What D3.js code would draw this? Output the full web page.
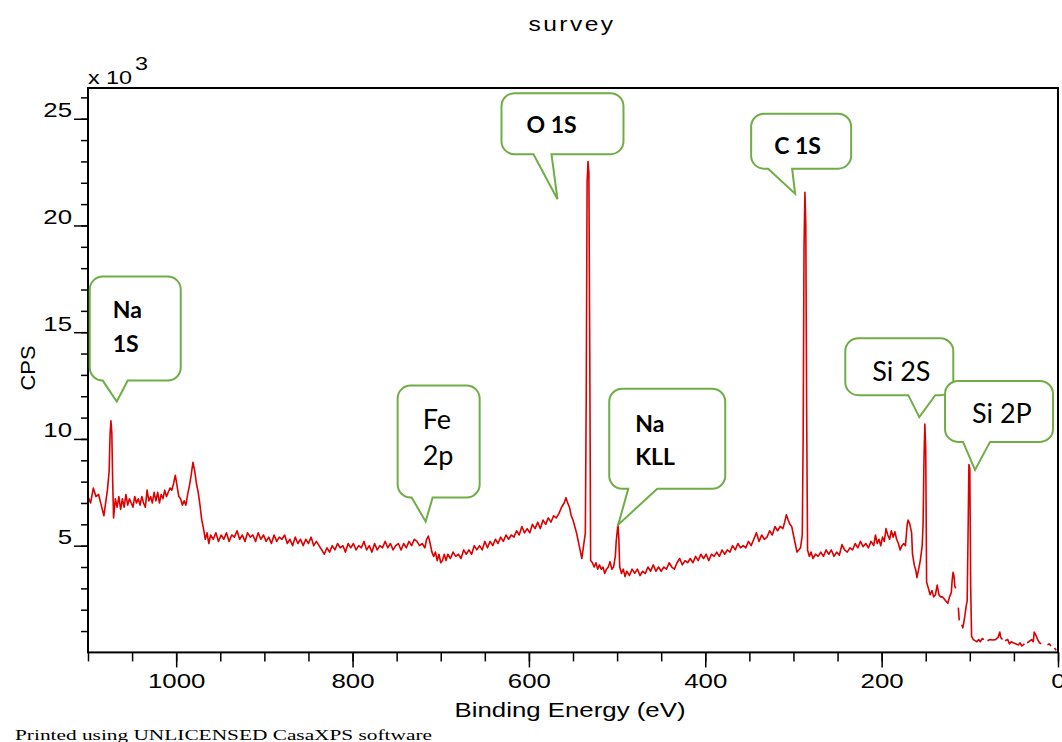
<!DOCTYPE html>
<html><head><meta charset="utf-8">
<script src="https://cdn.jsdelivr.net/npm/d3@7"></script>
<style>body{margin:0;background:#fff} svg{display:block}</style>
</head><body>
<svg id="chart" width="1062" height="742"></svg>
<script>
// ---------- DATA (binding energy eV, counts x10^3) ----------
const spectrum = [
[1100,7.3],[1097,7.0],[1094,7.7],[1091,7.3],[1088,7.4],[1085,6.9],[1082,6.4],[1080,7.0],[1078,7.6],[1076,8.5],[1075,10.2],[1074,10.85],[1073,10.3],[1072,8.0],[1071,6.3],[1069,7.2],[1067,6.8],[1065,7.3],[1063,6.7],[1061,7.2],[1059,6.8],[1057,7.4],[1055,6.9],[1053,7.2],[1051,7.0],[1049,6.8],[1047,7.3],[1045,7.0],[1043,7.2],[1041,6.9],[1039,7.3],[1037,7.0],[1035,6.8],[1033,7.6],[1031,7.1],[1029,7.3],[1027,7.0],[1025,7.5],[1023,7.1],[1021,7.5],[1019,7.0],[1017,7.4],[1015,7.2],[1013,7.6],[1011,7.3],[1009,7.5],[1007,7.7],[1005,7.6],[1003,7.9],[1001,8.3],[999,7.8],[997,7.3],[995,7.2],[993,6.9],[991,7.1],[989,6.9],[987,7.4],[985,7.8],[983,8.3],[981,8.9],[979,8.5],[977,7.9],[975,7.5],[973,6.9],[971,6.2],[969,5.8],[967,5.3],[965,5.6],[963,5.1],[961,5.5],
[958,5.3],[955,5.6],[952,5.2],[949,5.5],[946,5.3],[943,5.6],[940,5.2],[937,5.5],[934,5.4],[931,5.7],[928,5.3],[925,5.5],[922,5.2],[919,5.6],[916,5.4],[913,5.5],[910,5.2],[907,5.6],[904,5.3],[901,5.5],[898,5.2],[895,5.4],[892,5.1],[889,5.5],[886,5.2],[883,5.4],[880,5.3],[877,5.5],[874,5.1],[871,5.3],[868,5.0],[865,5.4],[862,5.1],[859,5.3],[856,5.0],[853,5.3],[850,5.1],[847,5.4],[844,5.0],[841,5.2],[838,5.0],[835,4.8],[832,4.6],[829,4.9],[826,4.7],[823,5.0],[820,4.8],[817,5.1],[814,4.9],[811,5.0],[808,4.7],[805,5.1],[802,4.9],[799,5.1],[796,4.8],[793,5.0],[790,4.9],[787,5.2],[784,4.8],[781,5.0],[778,4.7],[775,5.1],[772,4.8],[769,5.0],[766,4.9],[763,5.2],[760,4.9],[757,5.1],[754,4.8],[751,5.0],[748,5.1],[745,4.8],[742,5.1],[739,4.9],[736,5.2],[733,5.0],[730,5.3],[727,5.2],[724,5.0],[721,5.1],[718,4.9],[716,5.3],[714,5.45],[712,5.1],[710,4.7],[708,4.5],[706,4.7],[704,4.3],[702,4.6],[700,4.2],[698,4.3],[696,4.6],[694,4.3],[692,4.6],[689,4.4],[686,4.7],[683,4.5],[680,4.6],[677,4.4],[674,4.8],[671,4.6],[668,4.8],[665,4.6],[662,5.0],[659,4.8],[656,5.0],[653,4.8],[650,5.2],[647,4.9],[644,5.2],[641,5.0],[638,5.3],[635,5.1],[632,5.4],[629,5.2],[626,5.5],[623,5.3],[620,5.5],[617,5.4],[614,5.7],[611,5.5],[608,5.9],[605,5.6],[602,5.8],[599,5.6],[596,6.0],[593,5.8],[590,6.1],[587,5.8],[584,6.2],[581,6.0],[578,6.3],[575,6.1],[572,6.4],[569,6.3],[566,6.5],[563,6.8],[560,7.0],[558,7.25],[556,7.0],[554,6.8],[552,6.4],[550,6.2],[548,5.9],[546,5.6],[544,5.2],[542,4.8],[540,4.4],[538,5.0],[536,5.6],[535,12.0],[534,22.0],[533,23.0],[532,22.5],[531,14.0],[530,4.3],[528,4.2],[526,4.0],[524,4.2],[522,3.9],[520,4.1],[518,3.9],[516,4.0],[514,3.7],[512,3.9],[510,4.0],[508,4.25],[506,3.9],[504,4.0],[502,4.5],[501,5.2],[499,6.0],[498,5.3],[497,4.0],[495,3.7],[493,3.9],[491,3.55],[489,3.8],[486,3.6],[483,3.9],[480,3.7],[477,3.9],[474,3.6],[471,3.8],[468,3.7],[465,4.0],[462,3.8],[459,4.1],[456,3.8],[453,4.0],[450,3.8],[447,4.0],[444,3.9],[441,4.2],[438,4.0],[435,3.9],[432,4.2],[429,4.4],[426,4.1],[423,4.3],[420,4.2],[417,4.4],[414,4.2],[411,4.5],[408,4.3],[405,4.6],[402,4.4],[399,4.6],[396,4.3],[393,4.6],[390,4.5],[387,4.7],[384,4.5],[381,4.8],[378,4.6],[375,4.8],[372,4.7],[369,5.0],[366,4.8],[363,5.1],[360,4.9],[357,5.0],[354,4.9],[351,5.2],[348,5.0],[345,5.3],[342,5.6],[339,5.2],[336,5.5],[333,5.3],[330,5.4],[327,5.7],[324,5.5],[321,5.9],[318,5.7],[315,5.9],[312,5.8],[310,6.1],[308,6.45],[306,6.2],[304,6.0],[302,5.9],[300,5.5],[298,5.1],[296,4.7],[294,4.8],[292,4.9],[290,5.5],[289,10.0],[288,19.0],[287,21.55],[286,20.0],[285,11.0],[284,4.8],[282,4.5],[280,4.7],[278,4.4],[275,4.6],[272,4.5],[269,4.7],[266,4.5],[263,4.8],[260,4.6],[257,4.8],[254,4.5],[251,4.7],[248,4.55],[245,5.05],[242,4.8],[239,4.7],[236,4.9],[233,4.8],[230,5.1],[227,4.9],[224,5.2],[221,4.95],[218,5.1],[215,4.9],[212,5.2],[209,5.0],[207,5.5],[205,5.1],[203,5.3],[201,5.0],[199,5.4],[197,5.2],[195,5.8],[193,5.5],[191,5.3],[189,5.7],[187,5.4],[185,5.65],[183,5.3],[181,5.1],[179,4.8],[177,5.0],[175,5.1],[173,5.0],[171,6.0],[170,6.2],[168,6.0],[166,5.6],[165,4.6],[163,4.1],[161,3.8],[160,3.5],[158,3.9],[156,4.35],[154,5.0],[153,6.0],[152,9.0],[151,10.7],[150,9.5],[149,3.3],[147,3.0],[145,2.7],[143,2.9],[141,2.6],[139,2.7],[137,3.15],[135,2.7],[133,2.6],[131,2.6],[129,2.5],[127,2.4],[125,2.3],[123,2.6],[121,2.8],[120,3.4],[119,3.75],[118,3.6],[117,3.1],[116,3.0],[115,null],[113,2.1],[112,1.5],[111,null],[109,1.3],[108,1.15],[106,1.6],[104,2.2],[103,2.4],[102,5.5],[101,8.8],[100,8.6],[99,3.0],[98,0.75],[96,0.6],[94,0.55],[92,0.5],[90,0.6],[88,0.5],[86,0.65],[84,0.6],[82,null],[80,0.55],[77,0.6],[74,0.58],[71,0.6],[68,0.7],[66,0.95],[65,0.7],[63,0.6],[62,null],[60,0.55],[57,0.6],[55,0.4],[53,0.5],[51,0.45],[48,0.4],[45,0.35],[43,0.45],[41,0.3],[38,0.4],[37,null],[35,0.45],[33,0.5],[30,0.6],[28,0.5],[27,0.95],[25,0.8],[23,0.6],[21,0.45],[19,0.4],[15,null],[12,0.35],[10,0.4],[8,0.3],[6,null],[4,0.2],[2,0.1]
];
const xMajorTicks = [1000, 800, 600, 400, 200, 0];
const xMinorTicks = [1100,1050,1000,950,900,850,800,750,700,650,600,550,500,450,400,350,300,250,200,150,100,50,0];
const yMajorTicks = [5, 10, 15, 20, 25];
const yMinorTicks = [1,2,3,4,5,6,7,8,9,10,11,12,13,14,15,16,17,18,19,20,21,22,23,24,25,26];
const peakLabels = [
  {lines:["Na","1S"], be:1067.4, cps:11.75, bold:true},
  {lines:["Fe","2p"], be:717.1, cps:6.13, bold:false},
  {lines:["O 1S"], be:567.6, cps:21.23, bold:true},
  {lines:["Na","KLL"], be:498.7, cps:5.98, bold:true},
  {lines:["C 1S"], be:298.1, cps:21.49, bold:true},
  {lines:["Si 2S"], be:157.3, cps:11.02, bold:false},
  {lines:["Si 2P"], be:94.1, cps:8.55, bold:false}
];

// ---------- LAYOUT (callout boxes relative to the tip, px) ----------
const calloutLayout = [
  {box:[-27,-125,64,-21], tail:[-14,11], text:[[-4,-84],[-4,-50]]},
  {box:[-28,-136,54,-24], tail:[-14,7], text:[[-3,-93],[-3,-57]]},
  {box:[-56,-106,66,-45], tail:[-24,-6], text:[[-31,-66]]},
  {box:[-9,-136,107,-36], tail:[10,39], text:[[17,-93],[17,-60]]},
  {box:[-44,-80,56,-25], tail:[-27,-3], text:[[-21,-40]]},
  {box:[-74,-79,34,-22], tail:[-11,16], text:[[-47,-36]]},
  {box:[-30,-89,78,-28], tail:[-12,15], text:[[-3,-47]]}
];

const svg = d3.select("#chart");
const L = 88, R = 1058, T = 88, B = 652.4;
const x = d3.scaleLinear().domain([1100, 0]).range([L, R]);
const y = d3.scaleLinear().domain([0, 26.44]).range([B, T]);
const SANS = "'Liberation Sans', Arial, sans-serif";
const SX = 1.23;

function stext(str, px, py, size, anchor, sx, family) {
  return svg.append("text")
    .attr("transform", `translate(${px},${py}) scale(${sx},1)`)
    .attr("text-anchor", anchor)
    .attr("font-family", family || SANS)
    .attr("font-size", size)
    .attr("fill", "#000")
    .text(str);
}

// Title
stext("survey", 572, 31, 20, "middle", SX).attr("letter-spacing", 2);
// x10^3
stext("x", 88, 84, 19, "start", SX);
stext("10", 106, 84, 19, "start", SX);
stext("3", 135, 70, 19, "start", SX);

// Curve
const line = d3.line()
  .defined(d => d[1] !== null)
  .x(d => x(d[0]))
  .y(d => y(d[1]));
svg.append("path").datum(spectrum)
  .attr("d", line)
  .attr("fill", "none")
  .attr("stroke", "#dd0000")
  .attr("stroke-width", 1.6)
  .attr("stroke-linejoin", "round");

// Axes
const gx = svg.append("g").attr("transform", `translate(0,${B})`);
gx.append("g").call(d3.axisBottom(x).tickValues(xMinorTicks).tickSize(9).tickSizeOuter(0).tickFormat(""));
const gxM = gx.append("g").call(d3.axisBottom(x).tickValues(xMajorTicks).tickSize(15).tickSizeOuter(0).tickFormat(d3.format("d")));
gxM.selectAll("text").attr("y", null).attr("dy", null)
  .attr("transform", `translate(0,36) scale(${SX},1)`)
  .attr("font-family", SANS).attr("font-size", 21).attr("fill", "#000");

const gy = svg.append("g").attr("transform", `translate(${L},0)`);
gy.append("g").call(d3.axisLeft(y).tickValues(yMinorTicks).tickSize(7).tickSizeOuter(0).tickFormat(""));
const gyM = gy.append("g").call(d3.axisLeft(y).tickValues(yMajorTicks).tickSize(14).tickSizeOuter(0).tickFormat(d3.format("d")));
gyM.selectAll("text").attr("x", null).attr("dy", null)
  .attr("transform", `translate(-16,-2) scale(${SX},1)`)
  .attr("text-anchor", "end")
  .attr("font-family", SANS).attr("font-size", 21).attr("fill", "#000");
svg.selectAll(".domain").remove();
svg.selectAll(".tick line").attr("stroke", "#000").attr("stroke-width", 1.5);

// Frame
svg.append("rect").attr("x", L).attr("y", T).attr("width", R - L).attr("height", B - T)
  .attr("fill", "none").attr("stroke", "#000").attr("stroke-width", 2);

// Axis titles
stext("Binding Energy (eV)", 570, 717, 21, "middle", 1.0).attr("textLength", 231).attr("lengthAdjust", "spacingAndGlyphs");
svg.append("text")
  .attr("transform", "translate(35,368) rotate(-90)")
  .attr("text-anchor", "middle").attr("font-family", SANS).attr("font-size", 21)
  .attr("textLength", 45).attr("lengthAdjust", "spacingAndGlyphs")
  .text("CPS");

// Footer
svg.append("text").attr("x", 15).attr("y", 740)
  .attr("font-family", "'Liberation Serif', 'Times New Roman', serif").attr("font-size", 15)
  .attr("textLength", 417).attr("lengthAdjust", "spacingAndGlyphs")
  .text("Printed using UNLICENSED CasaXPS software");

// Callouts
const rr = 13;
peakLabels.forEach((p, i) => {
  const lay = calloutLayout[i];
  const tx = x(p.be), ty = y(p.cps);
  const [bx0, by0, bx1, by1] = [tx + lay.box[0], ty + lay.box[1], tx + lay.box[2], ty + lay.box[3]];
  const tl = tx + lay.tail[0], tr = tx + lay.tail[1];
  const path = d3.path();
  path.moveTo(bx0 + rr, by0);
  path.lineTo(bx1 - rr, by0);
  path.arcTo(bx1, by0, bx1, by0 + rr, rr);
  path.lineTo(bx1, by1 - rr);
  path.arcTo(bx1, by1, bx1 - rr, by1, rr);
  path.lineTo(tr, by1);
  path.lineTo(tx, ty);
  path.lineTo(tl, by1);
  path.lineTo(bx0 + rr, by1);
  path.arcTo(bx0, by1, bx0, by1 - rr, rr);
  path.lineTo(bx0, by0 + rr);
  path.arcTo(bx0, by0, bx0 + rr, by0, rr);
  path.closePath();
  svg.append("path").attr("d", path.toString())
    .attr("fill", "#fff").attr("stroke", "#70ad47").attr("stroke-width", 2).attr("stroke-linejoin", "miter");
  p.lines.forEach((s, j) => {
    svg.append("text")
      .attr("x", tx + lay.text[j][0]).attr("y", ty + lay.text[j][1])
      .attr("font-family", "Lato, 'Open Sans', sans-serif")
      .attr("font-weight", p.bold ? 700 : 400)
      .attr("font-size", p.bold ? 23 : 27)
      .attr("fill", "#000")
      .text(s);
  });
});
</script>
</body></html>
